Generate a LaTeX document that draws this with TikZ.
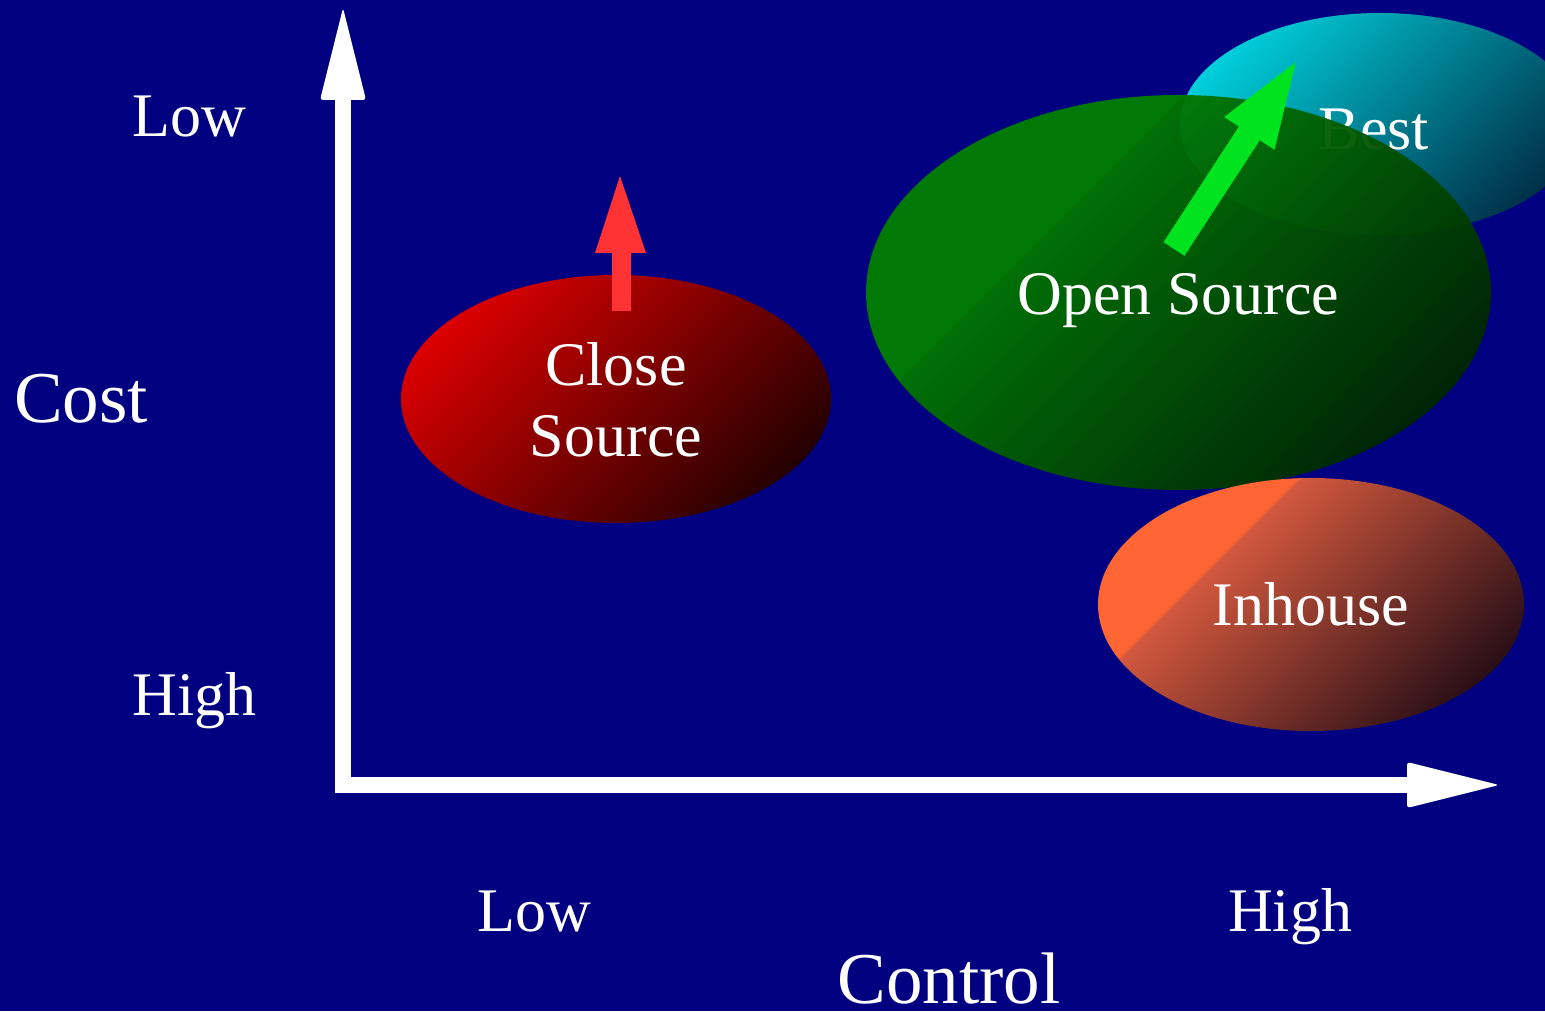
\documentclass[tikz,border=0pt]{standalone}
\usepackage{fontspec}
\setmainfont{Liberation Serif}

% colours of the chart
\definecolor{bgnavy}{RGB}{0,0,128}
\definecolor{closelight}{RGB}{222,0,0}
\definecolor{closedark}{RGB}{34,0,0}
\definecolor{opensolid}{RGB}{0,128,0}
\definecolor{openmid}{RGB}{0,118,0}
\definecolor{opendark}{RGB}{0,38,0}
\definecolor{bestlight}{RGB}{0,208,220}
\definecolor{bestdark}{RGB}{0,45,70}
\definecolor{ihorange}{RGB}{255,102,51}
\definecolor{ihmid}{RGB}{210,88,62}
\definecolor{ihdark}{RGB}{40,14,22}
\definecolor{uparrow}{RGB}{255,51,51}
\definecolor{gainarrow}{RGB}{0,228,32}

% flat colour up to a diagonal edge, then a gradient towards the dark corner
% (the central 50bp of a 100bp shading spans the shaded square)
\pgfdeclareverticalshading{inhouseshade}{100bp}{%
  color(0bp)=(ihdark); color(35.4bp)=(ihdark); color(58bp)=(ihmid);
  color(58.3bp)=(ihorange); color(100bp)=(ihorange)}
\pgfdeclareverticalshading{openshade}{100bp}{%
  color(0bp)=(opendark); color(28.2bp)=(opendark); color(61.2bp)=(openmid);
  color(61.5bp)=(opensolid); color(100bp)=(opensolid)}

\begin{document}
\begin{tikzpicture}[x=1bp,y=1bp,
  lbl/.style={text=white, inner sep=0pt, anchor=base,
              font=\fontsize{62bp}{71bp}\selectfont},
  biglbl/.style={lbl, font=\fontsize{73bp}{80bp}\selectfont},
  axishead/.style={fill=white, rounded corners=3bp},
]
\useasboundingbox (0,0) rectangle (1545,1011);
\fill[bgnavy] (0,0) rectangle (1545,1011);

% ---- axes ----
\coordinate (origin) at (335,218);
\fill[white] (origin) rectangle (351,911);
\path[axishead] (320,911) -- (343,1003) -- (366,911) -- cycle;
\fill[white] (origin) rectangle (1407,234);
\path[axishead] (1407,249) -- (1499,226) -- (1407,203) -- cycle;

% ---- Close Source ----
\begin{scope}
  \clip (616,612) ellipse [x radius=215, y radius=124];
  \begin{scope}[transform canvas={rotate around={45:(616,612)}}]
    \shade[top color=closelight, bottom color=closedark]
      (440,436) rectangle (792,788);
  \end{scope}
\end{scope}
\fill[uparrow] (612,700) -- (612,758) -- (595,758) -- (620,835)
  -- (646,758) -- (631,758) -- (631,700) -- cycle;

% ---- Best ----
\begin{scope}
  \clip (1380,887) ellipse [x radius=200, y radius=111];
  \begin{scope}[transform canvas={rotate around={45:(1380,887)}}]
    \shade[top color=bestlight, bottom color=bestdark]
      (1216,723) rectangle (1544,1051);
  \end{scope}
\end{scope}
\node[lbl] (best) at (1374,861) {Best};

% ---- Open Source (slightly see-through) ----
\begin{scope}
  \clip (1178.5,718.5) ellipse [x radius=312.5, y radius=197.5];
  \begin{scope}[transform canvas={rotate around={45:(1178.5,718.5)}}]
    \shade[shading=openshade, fill opacity=0.95]
      (878.5,418.5) rectangle (1478.5,1018.5);
  \end{scope}
\end{scope}
\node[lbl] (open) at (1178.5,696) {Open Source};
\begin{scope}[shift={(1174,762)}, rotate=56.9]
  \fill[gainarrow] (0,-12.5) -- (138,-12.5) -- (138,-30) -- (223,0)
    -- (138,30) -- (138,12.5) -- (0,12.5) -- cycle;
\end{scope}

% ---- Inhouse ----
\begin{scope}
  \clip (1311,406.5) ellipse [x radius=213, y radius=126.5];
  \begin{scope}[transform canvas={rotate around={45:(1311,406.5)}}]
    \shade[shading=inhouseshade] (1011,106.5) rectangle (1611,706.5);
  \end{scope}
\end{scope}
\node[lbl] (inhouse) at (1311,385) {Inhouse};

% ---- ellipse labels ----
\node[lbl] (closeA) at (616,625) {Close};
\node[lbl] (closeB) at (616,554) {Source};

% ---- axis labels ----
\node[lbl] (costlow) at (189.5,874) {Low};
\node[lbl] (costhigh) at (194.5,295) {High};
\node[biglbl] (cost) at (81,588) {Cost};
\node[lbl] (ctrllow) at (534,80) {Low};
\node[lbl] (ctrlhigh) at (1290,80) {High};
\node[biglbl] (control) at (949,8) {Control};
\end{tikzpicture}
\end{document}
